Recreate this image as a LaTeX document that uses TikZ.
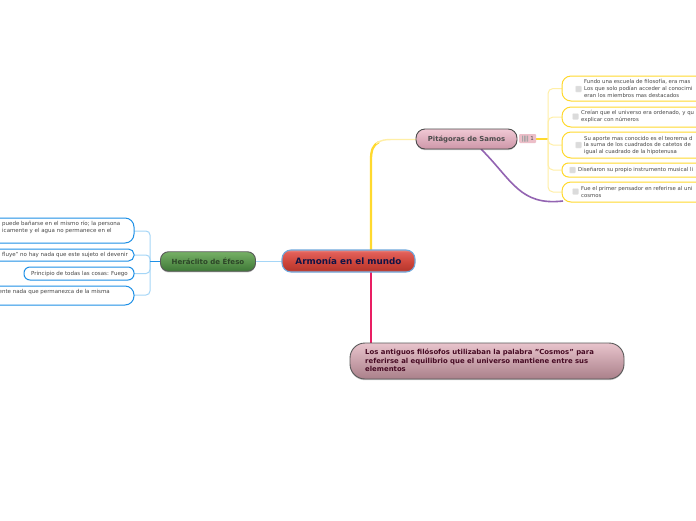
\documentclass[tikz,border=0pt]{standalone}
\usepackage{fontspec}
\setmainfont{DejaVu Sans}
\usetikzlibrary{shadows}
\definecolor{yel}{HTML}{FFD92E}
\definecolor{yell}{HTML}{FFEFA6}
\definecolor{blu}{HTML}{1E90E6}
\definecolor{blul}{HTML}{A5D6F7}
\definecolor{ctr}{HTML}{6FA8DC}
\definecolor{pinkline}{HTML}{E91E63}
\definecolor{purp}{HTML}{9364B2}
\definecolor{rA}{HTML}{E0857C}
\definecolor{rB}{HTML}{B8382E}
\definecolor{rC}{HTML}{CE463B}
\definecolor{rD}{HTML}{E2605A}
\definecolor{rE}{HTML}{EA8A82}
\pgfdeclareverticalshading{rootsh}{100bp}{
 color(0bp)=(rA);
 color(25bp)=(rA);
 color(30bp)=(rB);
 color(48bp)=(rC);
 color(70bp)=(rD);
 color(75bp)=(rE);
 color(100bp)=(rE)}
\tikzset{
 x=1pt,y=-1pt,
 box/.style={minimum width=#1,inner sep=0pt,outer sep=0pt},
 softshadow/.style={drop shadow={shadow xshift=0pt,shadow yshift=-1.2pt,fill=black,opacity=.22}},
 leafy/.style={box=#1,draw=yel,line width=1pt,fill=white,rounded corners=9pt},
 leafb/.style={box=#1,draw=blu,line width=1pt,fill=white,rounded corners=9pt},
 leaftxt/.style={inner sep=0pt,anchor=west,font=\fontsize{5.35}{6.5}\selectfont,text=black!72,align=left},
 leaftxtr/.style={inner sep=0pt,anchor=east,font=\fontsize{5.5}{6.6}\selectfont,text=black!72,align=left},
 chk/.style={minimum size=6pt,inner sep=0pt,fill=black!14,draw=black!8,line width=.3pt,rounded corners=.8pt},
 ylink/.style={yell,line width=1pt,rounded corners=5pt},
 blink/.style={blul,line width=1pt,rounded corners=4pt},
}
\begin{document}
\begin{tikzpicture}
\useasboundingbox (0,0) rectangle (696,520);
\clip (0,0) rectangle (696,520);
\fill[white] (0,0) rectangle (696,520);
\coordinate (lb) at (150,261);
\coordinate (rb) at (548,139);
% connectors under the nodes
\draw[yel,line width=2.3pt] (371,250) -- (371,160) .. controls (371,150) and (373,145) .. (379,142);
\draw[yell,line width=1.4pt] (376,143.5) .. controls (381,140) and (385,139.5) .. (392,139.5) -- (417,139.5);
\draw[pinkline,line width=2.4pt] (371,272) -- (371,343);
\draw[blul,line width=.9pt] (255,261) -- (282,261);
\foreach \yy in {231,255,273.5,295}{
 \draw[blink] (lb) -- (150,\yy) -- (134,\yy);
}
\draw[blu,line width=1pt] (161,261) -- (lb);
\draw[yel,line width=1.8pt] (536,139) -- (rb);
\foreach \yy in {88.5,117,145,170,192}{
 \draw[ylink] (rb) -- (548,\yy) -- (562,\yy);
}
\draw[purp,line width=1.6pt] (481,149) .. controls (512,180) and (520,206) .. (563,201);
% main nodes
\node[box=133pt,minimum height=22pt,draw=ctr,line width=1.1pt,shading=rootsh,rounded corners=9pt] (root) at (348.5,261) {};
\node[box=95pt,minimum height=19.5pt,draw=black!65,line width=.9pt,top color={rgb,255:red,118;green,176;blue,102},bottom color={rgb,255:red,62;green,120;blue,54},softshadow,rounded corners=8pt] (her) at (208,261.5) {};
\node[box=101pt,minimum height=20pt,draw=black!70,line width=.9pt,top color={rgb,255:red,240;green,200;blue,212},bottom color={rgb,255:red,205;green,150;blue,168},softshadow,rounded corners=9pt] (pit) at (466.5,139) {};
\node[box=274pt,minimum height=36pt,draw=black!65,line width=.9pt,top color={rgb,255:red,232;green,196;blue,204},bottom color={rgb,255:red,170;green,128;blue,138},softshadow,rounded corners=15pt] (cos) at (487,361) {};
% leaves
\node[leafb=194pt,minimum height=25pt] (l1) at (37,230.5) {};
\node[leafb=194pt,minimum height=12pt,rounded corners=5.5pt] (l2) at (37,255) {};
\node[leafb=110pt,minimum height=13pt,rounded corners=6pt] (l3) at (79,273.5) {};
\node[leafb=194pt,minimum height=19pt] (l4) at (37,295.5) {};
\node[leafy=200pt,minimum height=25pt] (r1) at (662,88.5) {};
\node[leafy=200pt,minimum height=20pt] (r2) at (662,117) {};
\node[leafy=200pt,minimum height=26pt] (r3) at (662,145) {};
\node[leafy=200pt,minimum height=14pt,rounded corners=6.5pt] (r4) at (662,170) {};
\node[leafy=200pt,minimum height=20pt] (r5) at (662,192) {};
% icon
\node[minimum width=17pt,minimum height=9pt,inner sep=0pt,fill={rgb,255:red,236;green,190;blue,200},rounded corners=1pt] (ic) at (527.5,138.5) {};
\fill[black!35] (522,135.5) rectangle (523,141.5) (524,135.5) rectangle (525.5,141.5) (526.5,135.5) rectangle (528,141.5);
\node[inner sep=0pt,font=\fontsize{5.5}{6}\selectfont,text=black!70] (ic1) at (532,138.7) {1};
% labels
\node[font=\bfseries\fontsize{8.8}{10}\selectfont,text={rgb,255:red,16;green,20;blue,70}] (t0) at (root.center) {Armonía en el mundo};
\node[font=\bfseries\fontsize{7.05}{8}\selectfont,text={rgb,255:red,45;green,70;blue,40}] (t1) at (her.center) {Heráclito de Éfeso};
\node[font=\bfseries\fontsize{6.9}{8}\selectfont,text=black!70] (t2) at (pit.center) {Pitágoras de Samos};
\node[font=\bfseries\fontsize{6.9}{8.4}\selectfont,text={rgb,255:red,70;green,10;blue,35},align=left,inner sep=0pt,anchor=west] (t3) at (365,360.5) {Los antiguos filósofos utilizaban la palabra "Cosmos" para\\referirse al equilibrio que el universo mantiene entre sus\\elementos};
\node[leaftxtr] (a1) at (120.5,227.5) {puede bañarse en el mismo río; la persona\\[.3pt]icamente y el agua no permanece en el};
\node[leaftxtr] (a2) at (128,255) {fluye" no hay nada que este sujeto el devenir};
\node[leaftxtr] (a3) at (128,274) {Principio de todas las cosas: Fuego};
\node[leaftxtr] (a4) at (110,292) {ente nada que permanezca de la misma};
\node[chk] (c1) at (578.5,89) {};
\node[chk] (c2) at (575.5,116.5) {};
\node[chk] (c3) at (578.5,145) {};
\node[chk] (c4) at (572.5,170) {};
\node[chk] (c5) at (575.5,191.5) {};
\node[leaftxt] (b1) at (584,88.5) {Fundo una escuela de filosofía, era mas\\[.4pt]Los que solo podían acceder al conocimi\\eran los miembros mas destacados};
\node[leaftxt] (b2) at (581,116.5) {Creían que el universo era ordenado, y qu\\explicar con números};
\node[leaftxt] (b3) at (584,145.5) {Su aporte mas conocido es el teorema d\\la suma de los cuadrados de catetos de\\igual al cuadrado de la hipotenusa};
\node[leaftxt] (b4) at (578,170) {Diseñaron su propio instrumento musical li};
\node[leaftxt] (b5) at (581,192) {Fue el primer pensador en referirse al uni\\cosmos};
\end{tikzpicture}
\end{document}
